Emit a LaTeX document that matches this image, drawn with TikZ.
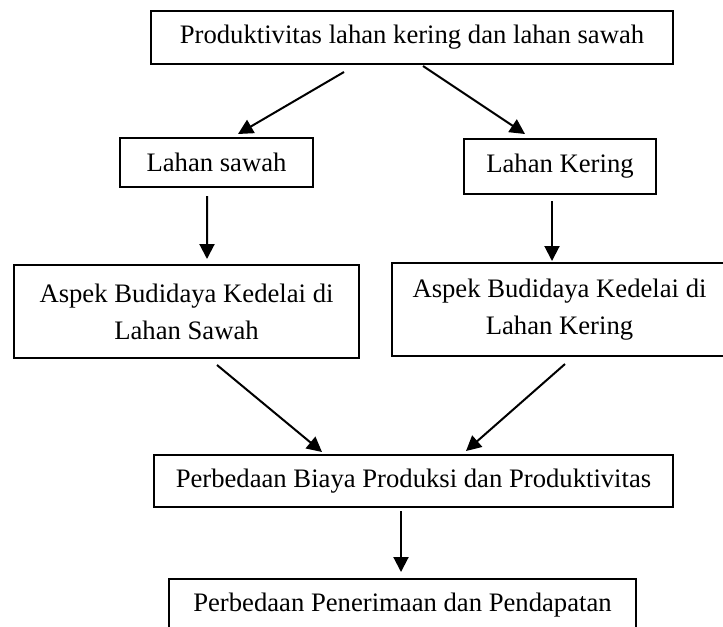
\documentclass[tikz,border=0pt]{standalone}
\usepackage{fontspec}
\setmainfont{Liberation Serif}
\usepackage{tikz}
\usetikzlibrary{arrows.meta,calc}

\begin{document}
\begin{tikzpicture}[
				x = 0.45pt, y = -0.45pt,
				every node/.style = {font = \fontsize{12}{16.7}\selectfont},
				kotak/.style = {draw, line width = 0.9pt, align = center, inner sep = 0pt},
				panah/.style = {line width = 0.9pt, -{Triangle[length=6.75pt,width=6.75pt]}}
				]
				\useasboundingbox (0,0) rectangle (723,626);
				
				\node [kotak, minimum width = 234.9pt, minimum height = 23.85pt] (prod) at (412,37.5) {Produktivitas lahan kering dan lahan sawah};
				\node [kotak, minimum width = 86.85pt, minimum height = 22.05pt] (sawah) at (216.5,162.5) {Lahan sawah};
				\node [kotak, minimum width = 86.4pt, minimum height = 24.75pt] (kering) at (560,166.5) {Lahan Kering};
				\node [kotak, minimum width = 155.25pt, minimum height = 41.85pt] (aspeksawah) at (186.5,311.5) {Aspek Budidaya Kedelai di\\ Lahan Sawah};
				\node [kotak, minimum width = 150.75pt, minimum height = 41.85pt] (aspekkering) at (559.5,309.5) {Aspek Budidaya Kedelai di\\ Lahan Kering};
				\node [kotak, minimum width = 233.55pt, minimum height = 23.4pt] (biaya) at (413.5,481) {Perbedaan Biaya Produksi dan Produktivitas};
				\node [kotak, minimum width = 210.15pt, minimum height = 23.85pt] (pendapatan) at (402.5,605.5) {Perbedaan Penerimaan dan Pendapatan};
				
				\draw [panah] ($(prod.south)+(-68,7)$) -- ($(sawah.north)+(21.5,-3)$);
				\draw [panah] ($(prod.south)+(11,1)$) -- ($(kering.north)+(-35,-4)$);
				\draw [panah] ($(sawah.south)+(-9.5,8)$) -- ($(aspeksawah.north)+(20.5,-5)$);
				\draw [panah] ($(kering.south)+(-8,6)$) -- ($(aspekkering.north)+(-7.5,-1)$);
				\draw [panah] ($(aspeksawah.south)+(30.5,6)$) -- ($(biaya.north)+(-91.5,-2)$);
				\draw [panah] ($(aspekkering.south)+(5.5,7)$) -- ($(biaya.north)+(52.5,-3)$);
				\draw [panah] ($(biaya.south)+(-12.5,3)$) -- ($(pendapatan.north)+(-1.5,-6)$);
			\end{tikzpicture}
\end{document}
